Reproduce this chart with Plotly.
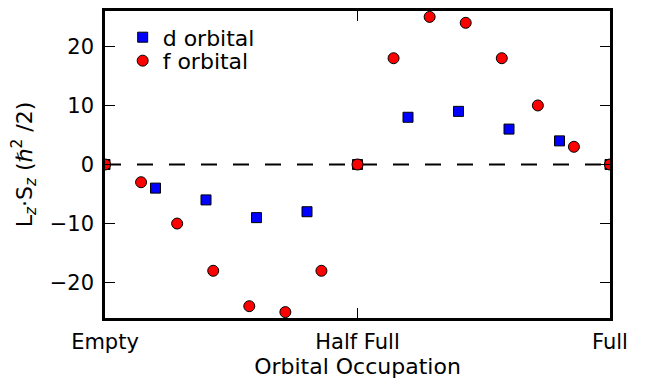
import plotly.graph_objects as go

# Electron count per shell and spin-orbit product L_z*S_z (units of hbar^2/2)
d_occupation = [0, 1, 2, 3, 4, 5, 6, 7, 8, 9, 10]
d_lzsz = [0, -4, -6, -9, -8, 0, 8, 9, 6, 4, 0]
f_occupation = [0, 1, 2, 3, 4, 5, 6, 7, 8, 9, 10, 11, 12, 13, 14]
f_lzsz = [0, -3, -10, -18, -24, -25, -18, 0, 18, 25, 24, 18, 10, 3, 0]

tick_vals = [0, 0.5, 1]
tick_text = ["Empty", "Half Full", "Full"]

d_frac = [n / 10 for n in d_occupation]
f_frac = [n / 14 for n in f_occupation]

tick_font = dict(family="DejaVu Sans", size=21, color="black")
title_font = dict(family="DejaVu Sans", size=22, color="black")
legend_font = dict(family="DejaVu Sans", size=22, color="black")

fig = go.Figure()

# zero reference line
fig.add_trace(go.Scatter(
    x=[0, 1], y=[0, 0], mode="lines",
    line=dict(color="black", width=2, dash="16px,16px"),
    showlegend=False, hoverinfo="skip",
))

fig.add_trace(go.Scatter(
    x=d_frac, y=d_lzsz, mode="markers", name="d orbital", legend="legend",
    marker=dict(symbol="square", size=10, color="#0000ff",
                line=dict(color="black", width=1)),
))
fig.add_trace(go.Scatter(
    x=f_frac, y=f_lzsz, mode="markers", name="f orbital", legend="legend2",
    marker=dict(symbol="circle", size=11, color="#ff0000",
                line=dict(color="black", width=1)),
))

axis_common = dict(
    showgrid=False, zeroline=False, showline=True, linecolor="black",
    linewidth=2.5, mirror="ticks", ticks="inside", ticklen=10,
    tickwidth=1.3, tickcolor="black", tickfont=tick_font,
)

fig.update_xaxes(
    range=[0, 1], tickvals=tick_vals, ticktext=tick_text,
    ticklabelstandoff=3,
    title=dict(text="Orbital Occupation", font=title_font, standoff=2),
    **axis_common,
)

nb = "\u00a0"
y_title = (
    "L<sub><i>z</i></sub>·S<sub><i>z</i></sub>" + nb
    + "(<i>ℏ</i><sup>2</sup>" + nb + "/2)"
)
fig.update_yaxes(
    range=[-26, 26], tickvals=[-20, -10, 0, 10, 20],
    ticklabelstandoff=4,
    title=dict(text=y_title, font=title_font, standoff=12),
    **axis_common,
)

legend_common = dict(xanchor="left", yanchor="middle",
                     bgcolor="rgba(0,0,0,0)", font=legend_font,
                     xref="paper", yref="paper")
fig.update_layout(
    width=654, height=379,
    margin=dict(l=105, r=44, t=8, b=58),
    paper_bgcolor="white", plot_bgcolor="white",
    font=tick_font,
    showlegend=True,
    legend=dict(x=0.035, y=1 - (35 - 8) / 314, **legend_common),
    legend2=dict(x=0.035, y=1 - (59 - 8) / 314, **legend_common),
)

fig.write_html("out.html")
